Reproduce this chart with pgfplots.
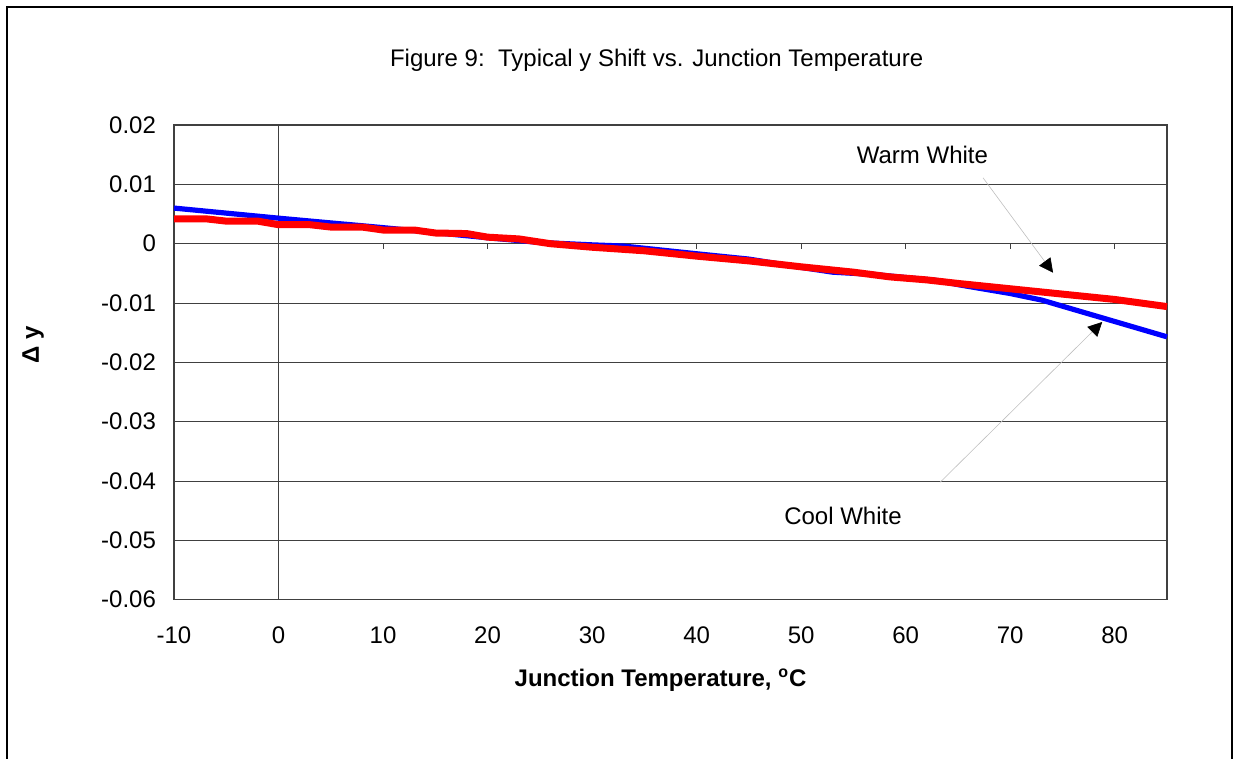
\documentclass[border=0pt]{standalone}
\usepackage{pgfplots}
\pgfplotsset{compat=1.18}
\usepackage{fontspec}
\setmainfont{Liberation Sans}
\usetikzlibrary{arrows.meta}

\pgfplotstableread{
x y
-10 0.0060
0 0.0043
10 0.0027
20 0.0010
25 0.0002
30 -0.0002
33 -0.0004
40 -0.0017
45 -0.0026
50 -0.0040
53 -0.0048
57 -0.0052
60 -0.0057
63 -0.0062
65 -0.0069
70 -0.0084
73 -0.0095
85 -0.0157
}\coolwhite

\pgfplotstableread{
x y
-10 0.0042
-7 0.0042
-5 0.0038
-2 0.0038
0 0.0032
3 0.0032
5 0.0028
8 0.0028
10 0.0023
13 0.0023
15 0.0018
18 0.0017
20 0.0011
23 0.0008
26 0.0000
30 -0.0006
35 -0.0012
40 -0.0021
45 -0.0029
50 -0.0039
55 -0.0048
58.5 -0.0056
62 -0.0061
65 -0.0067
70 -0.0076
75 -0.0085
80 -0.0094
85 -0.0106
}\warmwhite

\begin{document}
\begin{tikzpicture}
\useasboundingbox (0,0) rectangle (617.5pt,379.5pt);
\draw[line width=0.6pt] (3.5pt,-1pt) -- (3.5pt,376pt) -- (616pt,376pt) -- (616pt,-1pt);
\begin{axis}[
  at={(87pt,79.65pt)}, anchor=south west,
  scale only axis, width=496.5pt, height=237.35pt,
  xmin=-10, xmax=85, ymin=-0.06, ymax=0.02,
  scaled y ticks=false, scaled x ticks=false,
  xtick={-10,0,10,20,30,40,50,60,70,80},
  xticklabels={-10,0,10,20,30,40,50,60,70,80},
  ytick={-0.06,-0.05,-0.04,-0.03,-0.02,-0.01,0,0.01,0.02},
  yticklabels={-0.06,-0.05,-0.04,-0.03,-0.02,-0.01,0,0.01,0.02},
  ymajorgrids,
  major grid style={black!75, line width=0.5pt},
  axis line style={black!75, line width=0.6pt},
  major tick length=0pt,
  tick label style={font=\fontsize{12}{14}\selectfont},
  xticklabel style={anchor=center, yshift=-17.6pt},
  yticklabel style={anchor=east, xshift=-5.5pt},
  title={Figure 9:\ \ Typical y Shift vs. Junction Temperature},
  title style={at={(axis description cs:0.486,1.111)}, anchor=center, yshift=0pt, font=\fontsize{12}{14}\selectfont},
  xlabel={\textbf{Junction Temperature, \textsuperscript{o}C}},
  xlabel style={at={(axis description cs:0.49,-0.169)}, anchor=center, font=\fontsize{12}{14}\selectfont},
  ylabel={\textbf{Δ y}},
  ylabel style={at={(axis description cs:-0.142,0.537)}, anchor=center, font=\fontsize{12}{14}\selectfont},
  clip=false,
]
\draw[black!75, line width=0.5pt] (axis cs:0,-0.06) -- (axis cs:0,0.02);
\pgfplotsinvokeforeach{10,20,30,40,50,60,70,80}{
  \draw[black!75, line width=0.5pt] (axis cs:#1,0) -- (axis cs:#1,-0.0009);
}
\pgfplotsinvokeforeach{-0.06,-0.05,-0.04,-0.03,-0.02,-0.01,0,0.01,0.02}{
  \draw[black!75, line width=0.5pt] (axis cs:0,#1) -- (axis cs:-0.55,#1);
}
\addplot[blue, line width=2.6pt, line join=round] table[x=x,y=y] {\coolwhite};
\addplot[red, line width=3.5pt, line join=round] table[x=x,y=y] {\warmwhite};
\draw[black!25, line width=0.3pt, -{Triangle[length=7pt,width=7pt,color=black]}] (axis cs:67.4,0.0111) -- (axis cs:74.1,-0.0049);
\draw[black!25, line width=0.3pt, -{Triangle[length=7pt,width=7pt,color=black]}] (axis cs:63.3,-0.0402) -- (axis cs:78.8,-0.0132);
\node[font=\fontsize{12}{14}\selectfont] at (axis cs:61.6,0.0149) {Warm White};
\node[font=\fontsize{12}{14}\selectfont] at (axis cs:54.0,-0.0459) {Cool White};
\end{axis}
\end{tikzpicture}
\end{document}
